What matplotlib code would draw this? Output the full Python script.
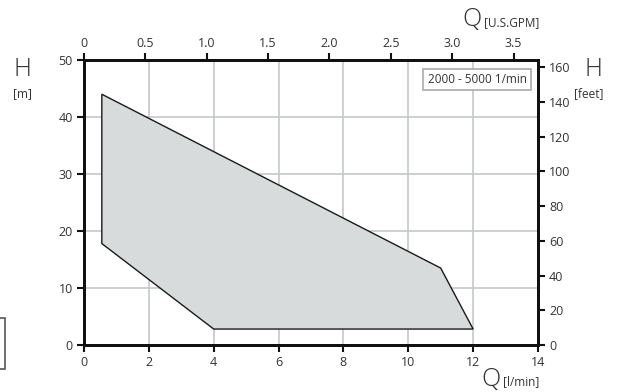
import matplotlib.pyplot as plt
from matplotlib.patches import Rectangle

# envelope of the operating range, Q in l/min and H in m
q_lpm = [0.55, 0.55, 4.0, 12.0, 11.0]
h_m = [44.0, 17.8, 2.8, 2.8, 13.5]

x_ticks = [0, 2, 4, 6, 8, 10, 12, 14]
y_ticks = [0, 10, 20, 30, 40, 50]
gpm_ticks = [0, 0.5, 1.0, 1.5, 2.0, 2.5, 3.0, 3.5]
ft_ticks = [0, 20, 40, 60, 80, 100, 120, 140, 160]
legend_text = "2000 - 5000 1/min"

LPM_PER_GPM = 3.785
FT_PER_M = 3.2808

plt.rcParams['font.family'] = ['Open Sans', 'DejaVu Sans']
txt = '#333333'

fig = plt.figure(figsize=(6.23, 3.92), dpi=100)
ax = fig.add_axes([0.1348, 0.1199, 0.7287, 0.727])

ax.fill(q_lpm, h_m, facecolor='#d8dbdb', edgecolor='#1a1a1a', linewidth=1.0, zorder=2)

ax.set_xlim(0, 14)
ax.set_ylim(0, 50)
ax.set_xticks(x_ticks)
ax.set_yticks(y_ticks)
ax.grid(True, color='#c4c8c8', linewidth=1.2, zorder=0)
ax.set_axisbelow(True)
for s in ax.spines.values():
    s.set_linewidth(2)
    s.set_color('#111111')
ax.tick_params(length=5, width=1.5, color='#111111', labelsize=9, labelcolor=txt, pad=3)

# top axis: U.S. GPM
top = ax.twiny()
top.set_xlim(0, 14 / LPM_PER_GPM)
top.set_xticks(gpm_ticks)
top.set_xticklabels(['0', '0.5', '1.0', '1.5', '2.0', '2.5', '3.0', '3.5'])
top.tick_params(length=5, width=1.5, color='#111111', labelsize=9, labelcolor=txt, pad=2)

# right axis: feet
right = ax.twinx()
right.set_ylim(0, 50 * FT_PER_M)
right.set_yticks(ft_ticks)
right.tick_params(length=5, width=1.5, color='#111111', labelsize=9, labelcolor=txt, pad=3)
for a in (top, right):
    for s in a.spines.values():
        s.set_linewidth(2)
        s.set_color('#111111')

# legend box
ax.text(0.975, 0.955, legend_text, transform=ax.transAxes, ha='right', va='top',
        fontsize=8.5, color=txt,
        bbox=dict(boxstyle='square,pad=0.35', facecolor='white', edgecolor='#aaaaaa', linewidth=1.2),
        zorder=5)

# axis titles
fig.text(22 / 623, 1 - 70 / 392, 'H', fontsize=18, color=txt, ha='center', va='center', fontweight='light')
fig.text(22 / 623, 1 - 94 / 392, '[m]', fontsize=8.5, color=txt, ha='center', va='center')
fig.text(593 / 623, 1 - 70 / 392, 'H', fontsize=18, color=txt, ha='center', va='center', fontweight='light')
fig.text(589 / 623, 1 - 94 / 392, '[feet]', fontsize=8.5, color=txt, ha='center', va='center')
fig.text(472 / 623, 1 - 20 / 392, 'Q', fontsize=18, color=txt, ha='center', va='center', fontweight='light')
fig.text(484 / 623, 1 - 23 / 392, '[U.S.GPM]', fontsize=8.5, color=txt, ha='left', va='center')
fig.text(491 / 623, 1 - 379 / 392, 'Q', fontsize=18, color=txt, ha='center', va='center', fontweight='light')
fig.text(503 / 623, 1 - 382 / 392, '[l/min]', fontsize=8.5, color=txt, ha='left', va='center')

# small cropped frame at the left edge
fig.patches.append(Rectangle((-2 / 623, 1 - 369 / 392), 7 / 623, 51 / 392,
                             transform=fig.transFigure, fill=False,
                             edgecolor='#555555', linewidth=1.2))

fig.savefig('out.png', dpi=100)
